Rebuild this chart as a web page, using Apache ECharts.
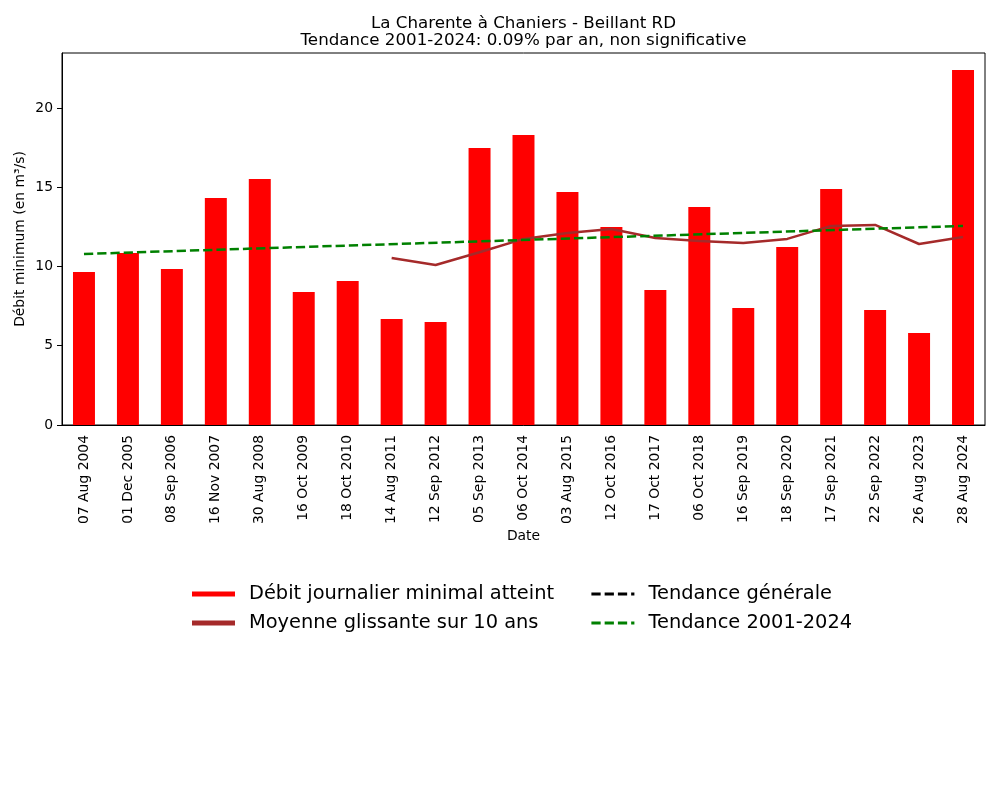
<!DOCTYPE html>
<html>
<head>
<meta charset="utf-8">
<script src="https://cdn.jsdelivr.net/npm/echarts@6/dist/echarts.min.js"></script>
<style>
html,body{margin:0;padding:0;background:#fff;}
#chart{width:1000px;height:800px;}
</style>
</head>
<body>
<div id="chart"></div>
<script>
const categories = ["07 Aug 2004","01 Dec 2005","08 Sep 2006","16 Nov 2007","30 Aug 2008","16 Oct 2009","18 Oct 2010","14 Aug 2011","12 Sep 2012","05 Sep 2013","06 Oct 2014","03 Aug 2015","12 Oct 2016","17 Oct 2017","06 Oct 2018","16 Sep 2019","18 Sep 2020","17 Sep 2021","22 Sep 2022","26 Aug 2023","28 Aug 2024"];
const debitMin = [9.65,10.85,9.84,14.32,15.52,8.39,9.09,6.69,6.5,17.48,18.3,14.7,12.49,8.52,13.75,7.38,11.23,14.89,7.26,5.8,22.4];
const moyenneGlissante = [null,null,null,null,null,null,null,10.54,10.09,10.9,11.74,12.11,12.37,11.8,11.61,11.48,11.74,12.56,12.62,11.42,11.86];
const tendance2001 = [10.79,null,null,null,null,null,null,null,null,null,null,null,null,null,null,null,null,null,null,null,12.56];
const tendanceGenerale = [];
const yTicks = [0,5,10,15,20];
const yMax = 23.47;
const titleLines = ['La Charente à Chaniers - Beillant RD','Tendance 2001-2024: 0.09% par an, non significative'];

const font = 'DejaVu Sans';
const chart = echarts.init(document.getElementById('chart'), null, {renderer:'canvas'});
const dash = [9.25, 4];
const legendText = {fontFamily:font, fontSize:19.4, color:'#000', padding:[0,0,0,9], lineHeight:23};
chart.setOption({
  animation:false,
  backgroundColor:'#fff',
  textStyle:{fontFamily:font},
  graphic:[
    {type:'text', x:523.5, y:24, style:{text:titleLines[0], fontFamily:font, fontSize:16.7, fill:'#000', textAlign:'center', textVerticalAlign:'middle'}},
    {type:'text', x:523.5, y:41, style:{text:titleLines[1], fontFamily:font, fontSize:16.7, fill:'#000', textAlign:'center', textVerticalAlign:'middle'}}
  ],
  grid:{left:62, right:15, top:53, bottom:375, show:true, borderColor:'#000', borderWidth:1, backgroundColor:'transparent'},
  legend:[
    {left:187, top:577.5, orient:'vertical', itemWidth:43, itemHeight:5, itemGap:6,
     textStyle:legendText,
     data:[{name:'Débit journalier minimal atteint', icon:'rect'},{name:'Moyenne glissante sur 10 ans', icon:'rect'}]},
    {left:585, top:577.5, orient:'vertical', itemWidth:43, itemHeight:5, itemGap:6,
     textStyle:legendText,
     data:[{name:'Tendance générale', itemStyle:{opacity:0}, lineStyle:{width:2.8}},{name:'Tendance 2001-2024', itemStyle:{opacity:0}, lineStyle:{width:2.8}}]}
  ],
  xAxis:{
    type:'category', data:categories, boundaryGap:true,
    name:'Date', nameLocation:'middle', nameGap:104,
    nameTextStyle:{fontFamily:font, fontSize:13.9, color:'#000'},
    axisLine:{lineStyle:{color:'#000', width:1}},
    axisTick:{alignWithLabel:true, length:5, lineStyle:{color:'#000'}},
    axisLabel:{rotate:90, interval:0, fontFamily:font, fontSize:13.9, color:'#000', margin:10},
    splitLine:{show:false}
  },
  yAxis:{
    type:'value', min:0, max:yMax, interval:5,
    name:'Débit minimum (en m³/s)', nameLocation:'middle', nameGap:35, nameMoveOverlap:false,
    nameTextStyle:{fontFamily:font, fontSize:13.9, color:'#000'},
    axisLine:{show:true, lineStyle:{color:'#000', width:1}},
    axisTick:{show:true, length:5, lineStyle:{color:'#000'}, customValues:yTicks},
    axisLabel:{fontFamily:font, fontSize:13.9, color:'#000', margin:9, customValues:yTicks},
    splitLine:{show:false}
  },
  series:[
    {name:'Débit journalier minimal atteint', type:'bar', data:debitMin, barWidth:'50%', itemStyle:{color:'#ff0000'}},
    {name:'Moyenne glissante sur 10 ans', type:'line', data:moyenneGlissante, symbol:'none', lineStyle:{color:'#a52a2a', width:2.5}, itemStyle:{color:'#a52a2a'}},
    {name:'Tendance générale', type:'line', data:tendanceGenerale, symbol:'none', lineStyle:{color:'#000', width:2.5, type:dash}, itemStyle:{color:'#000'}},
    {name:'Tendance 2001-2024', type:'line', data:tendance2001, connectNulls:true, symbol:'none', lineStyle:{color:'#008000', width:2.5, type:dash}, itemStyle:{color:'#008000'}}
  ]
});
</script>
</body>
</html>
